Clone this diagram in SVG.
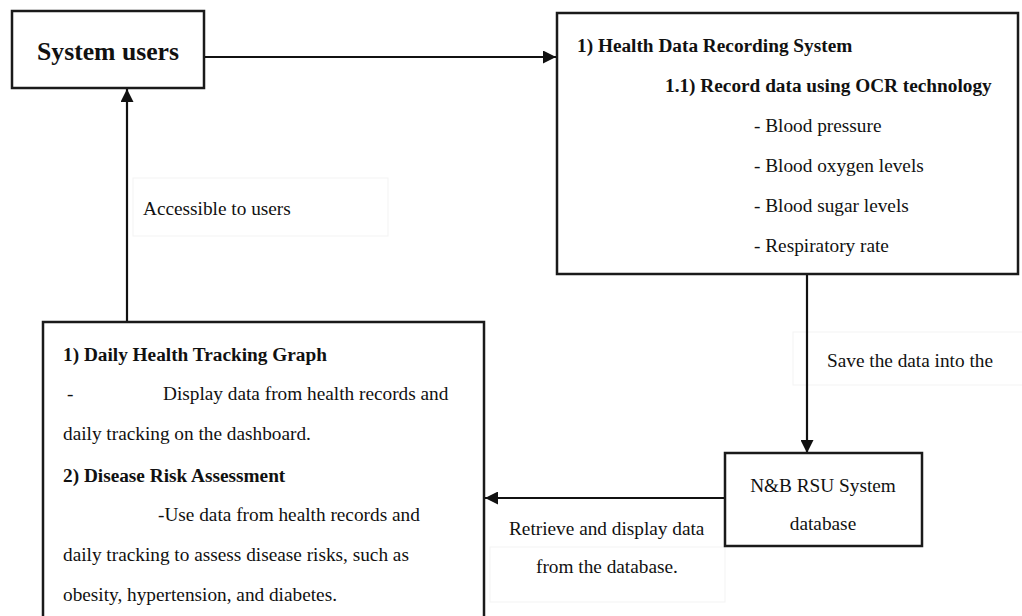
<svg xmlns="http://www.w3.org/2000/svg" width="1022" height="616" viewBox="0 0 1022 616">
  <style>
    .box { fill: #ffffff; stroke: #1a1a1a; stroke-width: 2.5; }
    .lbl-bg { fill: #ffffff; stroke: #f3f3f3; stroke-width: 1; }
    .edge { fill: none; stroke: #111111; stroke-width: 2.2; }
    text { font-family: "Liberation Serif", "Times New Roman", serif; fill: #111111; }
    .b { font-weight: bold; }
    .t { font-size: 19.3px; }
    .h { font-size: 19.3px; }
  </style>
  <defs>
    <marker id="arrow" viewBox="0 0 10 10" refX="10" refY="5" markerUnits="userSpaceOnUse" markerWidth="13" markerHeight="13" orient="auto">
      <path d="M0,0 L10,5 L0,10 Z" fill="#111111"/>
    </marker>
  </defs>

  <rect width="1022" height="616" fill="#ffffff"/>

  <!-- connector labels on light backgrounds -->
  <g id="labels">
    <rect class="lbl-bg" x="133" y="178" width="255" height="58"/>
    <text class="t" x="143" y="215">Accessible to users</text>
    <rect class="lbl-bg" x="793" y="332" width="235" height="53"/>
    <text class="t" x="827" y="367">Save the data into the</text>
    <rect class="lbl-bg" x="490" y="547" width="235" height="55"/>
    <text class="t" x="509" y="535">Retrieve and display data</text>
    <text class="t" x="536" y="573">from the database.</text>
  </g>

  <g id="connectors">
    <line class="edge" x1="204" y1="57" x2="556" y2="57" marker-end="url(#arrow)"/>
    <line class="edge" x1="807" y1="274" x2="807" y2="453" marker-end="url(#arrow)"/>
    <line class="edge" x1="725" y1="498" x2="485" y2="498" marker-end="url(#arrow)"/>
    <line class="edge" x1="127" y1="322" x2="127" y2="89" marker-end="url(#arrow)"/>
  </g>

  <g id="system-users">
    <rect class="box" x="12" y="11" width="192" height="77"/>
    <text class="b" x="108" y="60" font-size="25.7" text-anchor="middle">System users</text>
  </g>

  <g id="health-data-recording">
    <rect class="box" x="557" y="13" width="461" height="261"/>
    <text class="b h" x="577" y="52">1) Health Data Recording System</text>
    <text class="b h" x="665" y="92">1.1) Record data using OCR technology</text>
    <text class="t" x="754" y="132">- Blood pressure</text>
    <text class="t" x="754" y="172">- Blood oxygen levels</text>
    <text class="t" x="754" y="212">- Blood sugar levels</text>
    <text class="t" x="754" y="252">- Respiratory rate</text>
  </g>

  <g id="database">
    <rect class="box" x="725" y="453" width="197" height="93"/>
    <text class="t" x="823" y="492" text-anchor="middle">N&amp;B RSU System</text>
    <text class="t" x="823" y="530" text-anchor="middle">database</text>
  </g>

  <g id="dashboard">
    <rect class="box" x="43" y="322" width="441" height="320"/>
    <text class="b h" x="63" y="361">1) Daily Health Tracking Graph</text>
    <text class="t" x="67" y="400">-</text>
    <text class="t" x="163" y="400">Display data from health records and</text>
    <text class="t" x="63" y="440">daily tracking on the dashboard.</text>
    <text class="b h" x="63" y="482">2) Disease Risk Assessment</text>
    <text class="t" x="158" y="521">-Use data from health records and</text>
    <text class="t" x="63" y="561">daily tracking to assess disease risks, such as</text>
    <text class="t" x="63" y="601">obesity, hypertension, and diabetes.</text>
  </g>
</svg>
